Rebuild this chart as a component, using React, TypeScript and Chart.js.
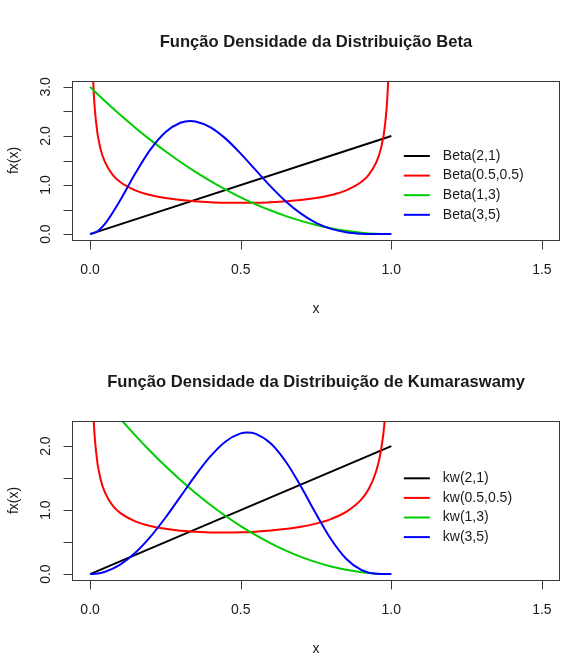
import React, { useEffect, useRef } from "react";
import { Chart, registerables } from "chart.js";

Chart.register(...registerables);

// ---- axes -------------------------------------------------------------
const xTicks = [0, 0.5, 1, 1.5];
const xTickLabels = ["0.0", "0.5", "1.0", "1.5"];
const betaYTicks = [0, 0.5, 1, 1.5, 2, 2.5, 3];
const betaYLabelValues = [0, 1, 2, 3];
const kwYTicks = [0, 0.5, 1, 1.5, 2];
const kwYLabelValues = [0, 1, 2];

// ---- series -----------------------------------------------------------
// straight line a=2, b=1
const lineX = [0, 1];
const line21Y = [0, 2];

// U-shaped densities (a=0.5, b=0.5)
const uX = [
  0.005, 0.01, 0.02, 0.035, 0.05, 0.075, 0.1, 0.15, 0.2, 0.25, 0.3, 0.4, 0.45,
  0.5, 0.55, 0.6, 0.7, 0.75, 0.8, 0.85, 0.9, 0.925, 0.95, 0.965, 0.98, 0.99,
  0.995,
];
const beta0505Y = [
  4.513, 3.199, 2.274, 1.732, 1.461, 1.2085, 1.061, 0.8915, 0.7958, 0.7351,
  0.6946, 0.6497, 0.6398, 0.6366, 0.6398, 0.6497, 0.6946, 0.7351, 0.7958,
  0.8915, 1.061, 1.2085, 1.461, 1.732, 2.274, 3.199, 4.513,
];
const kw0505Y = [
  3.667, 2.635, 1.908, 1.482, 1.269, 1.071, 0.956, 0.825, 0.752, 0.707, 0.679,
  0.652, 0.65, 0.653, 0.663, 0.68, 0.739, 0.789, 0.86, 0.971, 1.163, 1.329,
  1.612, 1.915, 2.519, 3.55, 5.01,
];

// decreasing densities (a=1, b=3)
const gridX = [
  0, 0.05, 0.1, 0.15, 0.2, 0.25, 0.3, 0.35, 0.4, 0.45, 0.5, 0.55, 0.6, 0.65,
  0.7, 0.75, 0.8, 0.85, 0.9, 0.95, 1,
];
const beta13Y = [
  3, 2.7075, 2.43, 2.1675, 1.92, 1.6875, 1.47, 1.2675, 1.08, 0.9075, 0.75,
  0.6075, 0.48, 0.3675, 0.27, 0.1875, 0.12, 0.0675, 0.03, 0.0075, 0,
];
const kw13Y = [
  3, 2.7075, 2.43, 2.1675, 1.92, 1.6875, 1.47, 1.2675, 1.08, 0.9075, 0.75,
  0.6075, 0.48, 0.3675, 0.27, 0.1875, 0.12, 0.0675, 0.03, 0.0075, 0,
];

// bell-shaped densities (a=3, b=5)
const beta35X = [
  0, 0.025, 0.05, 0.1, 0.15, 0.2, 0.25, 0.3, 0.3333, 0.35, 0.4, 0.45, 0.5, 0.55,
  0.6, 0.65, 0.7, 0.75, 0.8, 0.85, 0.9, 0.95, 1,
];
const beta35Y = [
  0, 0.0593, 0.2138, 0.6889, 1.2332, 1.7203, 2.0764, 2.2689, 2.3045, 2.2961,
  2.1773, 1.9457, 1.6406, 1.3025, 0.9677, 0.6657, 0.4167, 0.2307, 0.1075,
  0.0384, 0.0085, 0.0006, 0,
];
const kw35X = [
  0, 0.025, 0.05, 0.1, 0.15, 0.2, 0.25, 0.3, 0.35, 0.4, 0.45, 0.5, 0.5228, 0.55,
  0.6, 0.65, 0.7, 0.75, 0.8, 0.85, 0.9, 0.95, 1,
];
const kw35Y = [
  0, 0.0094, 0.0375, 0.1494, 0.333, 0.581, 0.8803, 1.21, 1.5421, 1.8421,
  2.0727, 2.1982, 2.2126, 2.1913, 2.0401, 1.7546, 1.3695, 0.9425, 0.5444,
  0.2403, 0.0655, 0.0056, 0,
];

const betaNames = ["Beta(2,1)", "Beta(0.5,0.5)", "Beta(1,3)", "Beta(3,5)"];
const kwNames = ["kw(2,1)", "kw(0.5,0.5)", "kw(1,3)", "kw(3,5)"];
const seriesColors = ["#000000", "#ff0000", "#00cd00", "#0000ff"];

const betaTitle = "Função Densidade da Distribuição Beta";
const kwTitle = "Função Densidade da Distribuição de Kumaraswamy";
const xTitle = "x";
const yTitle = "fx(x)";

// ---- drawing helpers ----------------------------------------------------
const FONT = '"Liberation Sans", Arial, Helvetica, sans-serif';
const INK = "#1a1a1a";
const FRAME = "#3a3a3a";

type PanelSpec = {
  title: string;
  names: string[];
  xs: number[][];
  ys: number[][];
  yMin: number;
  yMax: number;
  yTicks: number[];
  yLabelValues: number[];
  height: number;
  padTop: number;
  padBottom: number;
  legendOffset: number;
};

const toPoints = (xs: number[], ys: number[]) =>
  xs.map((x, i) => ({ x, y: ys[i] }));

// base-graphics style frame: box, outward ticks, labels, titles, legend
const framePlugin = {
  id: "baseFrame",
  afterDatasetsDraw(chart: any, _args: any, opts: any) {
    const spec: PanelSpec = opts.spec;
    const { ctx, chartArea } = chart;
    const { left, right, top, bottom } = chartArea;
    const xs = chart.scales.x;
    const ys = chart.scales.y;
    const tick = 9;

    ctx.save();
    // box
    ctx.strokeStyle = FRAME;
    ctx.lineWidth = 1;
    ctx.strokeRect(left + 0.5, top + 0.5, right - left - 1, bottom - top);

    // x ticks
    ctx.beginPath();
    xTicks.forEach((v) => {
      const px = Math.round(xs.getPixelForValue(v)) + 0.5;
      ctx.moveTo(px, bottom + 0.5);
      ctx.lineTo(px, bottom + 0.5 + tick);
    });
    // y ticks
    spec.yTicks.forEach((v) => {
      const py = Math.round(ys.getPixelForValue(v)) + 0.5;
      ctx.moveTo(left + 0.5, py);
      ctx.lineTo(left + 0.5 - tick, py);
    });
    ctx.stroke();

    ctx.fillStyle = INK;
    ctx.font = `14px ${FONT}`;
    ctx.textAlign = "center";
    ctx.textBaseline = "middle";
    xTicks.forEach((v, i) => {
      ctx.fillText(xTickLabels[i], xs.getPixelForValue(v), bottom + 30);
    });
    spec.yLabelValues.forEach((v) => {
      ctx.save();
      ctx.translate(left - 25.5, ys.getPixelForValue(v));
      ctx.rotate(-Math.PI / 2);
      ctx.fillText(v.toFixed(1), 0, 0);
      ctx.restore();
    });

    const cx = (left + right) / 2;
    const cy = (top + bottom) / 2;
    ctx.fillText(xTitle, cx, bottom + 69);
    ctx.save();
    ctx.translate(left - 58, cy);
    ctx.rotate(-Math.PI / 2);
    ctx.fillText(yTitle, 0, 0);
    ctx.restore();

    // main title
    ctx.font = `bold 16.6px ${FONT}`;
    ctx.fillText(spec.title, cx, top - 39);

    // legend (no frame)
    ctx.font = `14px ${FONT}`;
    ctx.textAlign = "left";
    const segStart = xs.getPixelForValue(1) + 12.5;
    spec.names.forEach((name, i) => {
      const y = top + spec.legendOffset + i * 19.6;
      ctx.strokeStyle = seriesColors[i];
      ctx.lineWidth = 2;
      ctx.beginPath();
      ctx.moveTo(segStart, y);
      ctx.lineTo(segStart + 26, y);
      ctx.stroke();
      ctx.fillStyle = INK;
      ctx.fillText(name, segStart + 39, y);
    });
    ctx.restore();
  },
};

function Panel({ spec }: { spec: PanelSpec }) {
  const ref = useRef<HTMLCanvasElement | null>(null);

  useEffect(() => {
    if (!ref.current) return;
    const datasets = spec.names.map((name, i) => ({
      label: name,
      data: toPoints(spec.xs[i], spec.ys[i]),
      borderColor: seriesColors[i],
      backgroundColor: seriesColors[i],
      borderWidth: 2,
      pointRadius: 0,
      fill: false,
      cubicInterpolationMode: i === 0 ? "default" : "monotone",
      tension: 0,
      clip: 0,
      order: spec.names.length - i,
    }));

    const chart = new Chart(ref.current, {
      type: "line",
      data: { datasets },
      plugins: [framePlugin],
      options: {
        responsive: false,
        animation: false,
        events: [],
        layout: {
          padding: {
            left: 72,
            right: 14,
            top: spec.padTop,
            bottom: spec.padBottom,
          },
        },
        scales: {
          x: { type: "linear", min: -0.06, max: 1.56, display: false },
          y: { type: "linear", min: spec.yMin, max: spec.yMax, display: false },
        },
        plugins: {
          legend: { display: false },
          tooltip: { enabled: false },
          title: { display: false },
          baseFrame: { spec },
        } as any,
      },
    } as any);

    return () => chart.destroy();
  }, [spec]);

  return (
    <canvas
      ref={ref}
      width={574}
      height={spec.height}
      style={{ display: "block", width: 574, height: spec.height }}
    />
  );
}

const betaPanel: PanelSpec = {
  title: betaTitle,
  names: betaNames,
  xs: [lineX, uX, gridX, beta35X],
  ys: [line21Y, beta0505Y, beta13Y, beta35Y],
  yMin: -0.12,
  yMax: 3.12,
  yTicks: betaYTicks,
  yLabelValues: betaYLabelValues,
  height: 330,
  padTop: 81,
  padBottom: 90,
  legendOffset: 75,
};

const kwPanel: PanelSpec = {
  title: kwTitle,
  names: kwNames,
  xs: [lineX, uX, gridX, kw35X],
  ys: [line21Y, kw0505Y, kw13Y, kw35Y],
  yMin: -0.092,
  yMax: 2.392,
  yTicks: kwYTicks,
  yLabelValues: kwYLabelValues,
  height: 331,
  padTop: 91,
  padBottom: 81,
  legendOffset: 57.3,
};

export default function App() {
  return (
    <div
      style={{
        position: "fixed",
        left: 0,
        top: 0,
        width: 574,
        height: 661,
        background: "#ffffff",
      }}
    >
      <Panel spec={betaPanel} />
      <Panel spec={kwPanel} />
    </div>
  );
}
